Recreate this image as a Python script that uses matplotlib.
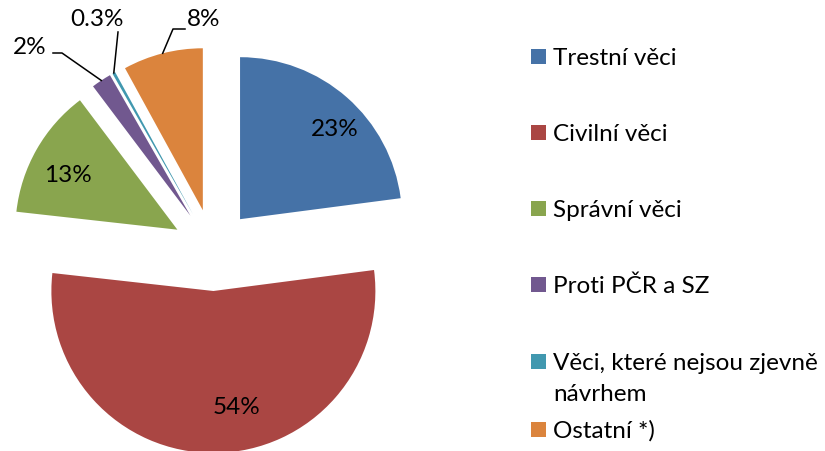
import numpy as np
import matplotlib
matplotlib.use('Agg')
import matplotlib.pyplot as plt
from matplotlib.patches import Rectangle

categories = ['Trestní věci', 'Civilní věci', 'Správní věci', 'Proti PČR a SZ',
              'Věci, které nejsou zjevně\nnávrhem', 'Ostatní *)']
values = [23, 54, 13, 2, 0.3, 8]
pct_labels = ['23%', '54%', '13%', '2%', '0.3%', '8%']
colors = ['#4572A7', '#AA4643', '#89A54E', '#71588F', '#4198AF', '#DB843D']

W, H = 825, 452
plt.rcParams['font.family'] = ['Lato', 'DejaVu Sans']
FS = 17.5

fig = plt.figure(figsize=(W / 100, H / 100), dpi=100)
ax = fig.add_axes([0, 0, 1, 1])

def P(x, y):
    # image pixel -> data coords (y up)
    return x, H - y

wedges, _ = ax.pie(values, colors=colors, startangle=90, counterclock=False,
                   radius=162, center=P(213, 251), explode=[41] * len(values),
                   wedgeprops=dict(linewidth=0))
ax.set_xlim(0, W); ax.set_ylim(0, H)
ax.set_aspect('equal'); ax.axis('off')

# inside labels
inside_pos = {0: (335, 130), 1: (237, 408), 2: (68, 175)}
for i, (x, y) in inside_pos.items():
    ax.text(*P(x, y), pct_labels[i], fontsize=FS, ha='center', va='center')

# outside labels with leader lines (text pos, elbow pos)
outside = {3: ((30, 48), (53, 54), (62, 54)),
           4: ((97, 19), (118, 33), (118, 33)),
           5: ((204, 20), (185, 30), (173, 30))}
for i, (tp, a, b) in outside.items():
    w = wedges[i]
    th = np.deg2rad((w.theta1 + w.theta2) / 2)
    ex = w.center[0] + w.r * np.cos(th)
    ey = w.center[1] + w.r * np.sin(th)
    ax.plot([P(*a)[0], P(*b)[0], ex], [P(*a)[1], P(*b)[1], ey], color='black', lw=1.1)
    ax.text(*P(*tp), pct_labels[i], fontsize=FS, ha='center', va='center')

# legend
leg_y = [57, 133, 209, 285, 362, 430]
for lab, c, y in zip(categories, colors, leg_y):
    ax.add_patch(Rectangle(P(531, y + 7.5), 15, 15, color=c, lw=0))
    for k, line in enumerate(lab.split('\n')):
        ax.text(*P(553, y + 8 + 31 * k), line, fontsize=FS, ha='left', va='baseline')

fig.savefig('out.png', dpi=100)
